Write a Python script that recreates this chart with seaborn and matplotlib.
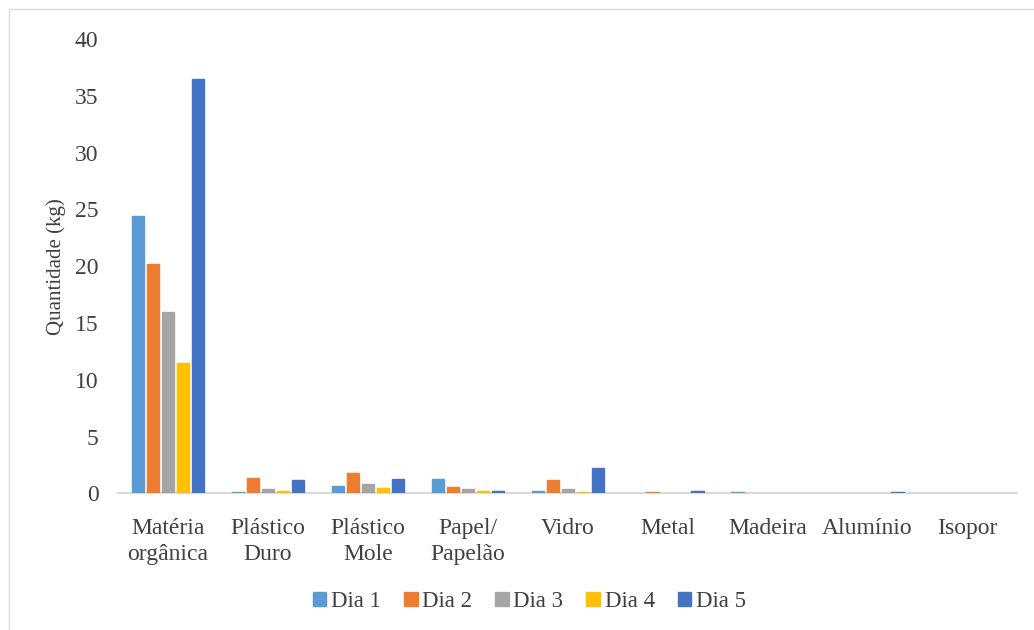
import numpy as np
import pandas as pd
import seaborn as sns
import matplotlib.pyplot as plt
from matplotlib.patches import Rectangle

categorias = ["Matéria\norgânica", "Plástico\nDuro", "Plástico\nMole", "Papel/\nPapelão",
              "Vidro", "Metal", "Madeira", "Alumínio", "Isopor"]
dias = ["Dia 1", "Dia 2", "Dia 3", "Dia 4", "Dia 5"]
dia1 = [24.4, 0.1, 0.6, 1.3, 0.2, 0.0, 0.08, 0.0, 0.0]
dia2 = [20.2, 1.35, 1.8, 0.55, 1.2, 0.08, 0.0, 0.0, 0.0]
dia3 = [16.0, 0.35, 0.85, 0.4, 0.4, 0.0, 0.0, 0.0, 0.0]
dia4 = [11.5, 0.17, 0.43, 0.17, 0.08, 0.0, 0.0, 0.0, 0.0]
dia5 = [36.5, 1.13, 1.27, 0.2, 2.27, 0.22, 0.0, 0.1, 0.0]
cores = ["#5B9BD5", "#ED7D31", "#A5A5A5", "#FFC000", "#4472C4"]

df = pd.DataFrame({
    "Material": categorias * 5,
    "Dia": np.repeat(dias, len(categorias)),
    "Quantidade": dia1 + dia2 + dia3 + dia4 + dia5,
})

sns.set_style("white")
plt.rcParams['font.family'] = ['Liberation Serif', 'DejaVu Serif']

fig = plt.figure(figsize=(10.34, 6.3), dpi=100)
ax = fig.add_axes([0.114, 0.217, 0.870, 0.721])

sns.barplot(data=df, x="Material", y="Quantidade", hue="Dia", palette=cores,
            width=0.75, gap=0.18, ax=ax, legend=False, saturation=1)
for bar in ax.patches:
    bar.set_edgecolor(bar.get_facecolor())
    bar.set_linewidth(1 if bar.get_height() > 0 else 0)
    bar.set_zorder(3)

ax.set_ylim(0, 40)
ax.set_yticks(range(0, 41, 5))
ax.set_xlim(-0.5, len(categorias) - 0.5)
ax.set_xlabel("")
ax.set_ylabel("Quantidade (kg)", fontsize=15, color="#404040")
ax.yaxis.set_label_coords(-0.058, 0.5)
ax.tick_params(axis="both", labelsize=17, colors="#404040", length=0)
ax.tick_params(axis="y", pad=14)
ax.tick_params(axis="x", pad=18)
for lab in ax.get_xticklabels():
    lab.set_linespacing(1.3)

for s in ["top", "right", "left"]:
    ax.spines[s].set_visible(False)
ax.spines["bottom"].set_color("#D9D9D9")
ax.spines["bottom"].set_linewidth(1.5)
ax.spines["bottom"].set_zorder(1)

handles = [Rectangle((0, 0), 1, 1, color=c) for c in cores]
fig.legend(handles, dias, loc="center", bbox_to_anchor=(0.512, 0.045), ncol=5,
           frameon=False, fontsize=16.5, handlelength=0.6, handleheight=0.6,
           handletextpad=0.2, columnspacing=1.0, labelcolor="#404040")

fig.patches.append(Rectangle((0.009, -0.01), 0.995, 0.995, transform=fig.transFigure,
                             fill=False, edgecolor="#D9D9D9", linewidth=1))

fig.savefig("out.png", dpi=100)
